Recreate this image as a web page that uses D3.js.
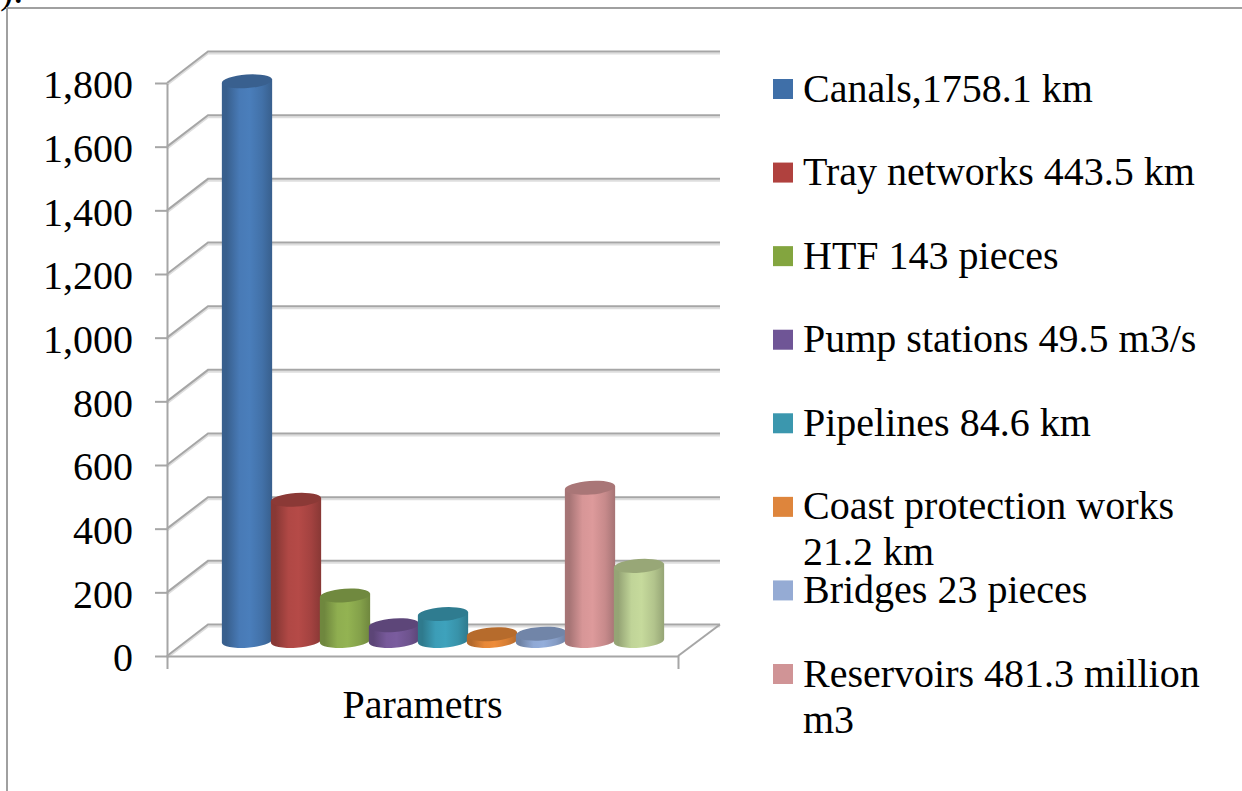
<!DOCTYPE html>
<html>
<head>
<meta charset="utf-8">
<style>
  html, body { margin: 0; padding: 0; background: #fff; overflow: hidden; }
  svg { display: block; }
  text { font-family: "Liberation Serif", "Times New Roman", serif; fill: #000; }
</style>
<script src="https://cdn.jsdelivr.net/npm/d3@7/dist/d3.min.js"></script>
</head>
<body>
<svg id="chart" width="1242" height="791"></svg>
<script>
// Hydraulic infrastructure parameters
const seriesValues = [1758.1, 443.5, 143, 49.5, 84.6, 21.2, 23, 481.3, 236];
const legendLabels = [
  ["Canals,1758.1 km"],
  ["Tray networks 443.5 km"],
  ["HTF 143 pieces"],
  ["Pump stations 49.5 m3/s"],
  ["Pipelines 84.6 km"],
  ["Coast protection works", "21.2 km"],
  ["Bridges 23 pieces"],
  ["Reservoirs 481.3 million", "m3"]
];
const axisTicks = [0, 200, 400, 600, 800, 1000, 1200, 1400, 1600, 1800];
const axisCategories = ["Parametrs"];
const barColors = ["#4a7ebb", "#b54a47", "#93b352", "#7a5c9e", "#3ea2bc", "#ee8c3a", "#94aedb", "#dd9a9b", "#c6da9c"];
const legendColors = ["#3f6fa8", "#b0413e", "#83a53f", "#6f5596", "#3b97ae", "#de853c", "#95abd4", "#d09496"];

const FONT = 40;
const svg = d3.select("#chart");
const defs = svg.append("defs");

// Outer frame, with the caption of the figure above running off the top edge
svg.append("text").attr("x", -20).attr("y", 3).attr("font-size", FONT).text("b).");
svg.append("path").attr("d", "M7,791V8H1242").attr("fill", "none").attr("stroke", "#a0a0a0").attr("stroke-width", 2);

// Front plane scales plus the depth offset of the rear wall
const y = d3.scaleLinear().domain([0, 1800]).range([656, 83]);
const x = d3.scaleBand().domain(axisCategories).range([167, 678]);
const bars = d3.scaleBand().domain(d3.range(seriesValues.length)).range([222, 663]);
const depth = { dx: 41, dy: -31.5 };
const wallRight = x.range()[1] + depth.dx + 1;
const gridColor = "#a6a6a6";

// Wall grid: soft shadow pass first, then the solid lines
const grid = svg.append("g").attr("fill", "none");
const wallPath = v => `M${x.range()[0]},${y(v)}L${x.range()[0] + depth.dx},${y(v) + depth.dy}H${wallRight}`;
grid.selectAll("path.shade").data(axisTicks).join("path")
  .attr("class", "shade")
  .attr("d", wallPath)
  .attr("transform", "translate(0,2)")
  .attr("stroke", "#dedede").attr("stroke-width", 2);
grid.selectAll("path.line").data(axisTicks).join("path")
  .attr("class", "line")
  .attr("d", wallPath)
  .attr("stroke", gridColor).attr("stroke-width", 2);

// Floor edge on the right side
grid.append("path")
  .attr("d", `M${x.range()[1]},${y(0)}L${wallRight},${y(0) + depth.dy}`)
  .attr("stroke", gridColor).attr("stroke-width", 2);

// Axes
const yAxis = svg.append("g").attr("transform", `translate(${x.range()[0]},0)`)
  .call(d3.axisLeft(y).tickValues(axisTicks).tickFormat(d3.format(",")).tickSizeInner(12).tickSizeOuter(0).tickPadding(22));
const xAxis = svg.append("g").attr("transform", `translate(0,${y(0)})`)
  .call(d3.axisBottom(x).tickSizeInner(0).tickSizeOuter(13).tickPadding(34));
[yAxis, xAxis].forEach(a => {
  a.attr("font-family", null).attr("font-size", null);
  a.selectAll("path,line").attr("stroke", gridColor).attr("stroke-width", 2);
  a.selectAll("text").attr("font-size", FONT).attr("fill", "#000");
});
yAxis.selectAll("text").attr("dy", "0.37em");
xAxis.selectAll("text").attr("dy", "0.71em");

// Cylinders, drawn left to right so that each one overlaps the previous
const baseY = y(0) - 15;
const pxPerUnit = (y(0) - y(1)), tilt = 4 * Math.PI / 180, ry = 6.8;
const g = svg.append("g");
seriesValues.forEach((value, i) => {
  const mid = d3.rgb(barColors[i]);
  const edge = mid.darker(0.8);
  const top = mid.darker(0.75);
  const id = "cyl" + i;
  const grad = defs.append("linearGradient").attr("id", id).attr("x1", 0).attr("x2", 1).attr("y1", 0).attr("y2", 0);
  [[0, edge], [0.09, edge], [0.35, mid.darker(0.08)], [0.55, mid], [0.8, mid.darker(0.3)], [1, edge]].forEach(([o, c]) => {
    grad.append("stop").attr("offset", o).attr("stop-color", c);
  });

  const rx = bars.bandwidth() / 2 + 0.7;
  const cx = bars(i) + bars.bandwidth() / 2 + 0.5;
  const cyTop = baseY - value * pxPerUnit;
  const ex = rx * Math.cos(tilt), ey = rx * Math.sin(tilt);
  const deg = -tilt * 180 / Math.PI;

  g.append("path")
    .attr("d", `M${cx - ex},${cyTop + ey}L${cx - ex},${baseY + ey}` +
      `A${rx},${ry} ${deg} 0 0 ${cx + ex},${baseY - ey}L${cx + ex},${cyTop - ey}Z`)
    .attr("fill", `url(#${id})`);
  g.append("ellipse")
    .attr("cx", cx).attr("cy", cyTop).attr("rx", rx).attr("ry", ry)
    .attr("transform", `rotate(${deg} ${cx} ${cyTop})`)
    .attr("fill", top);
});

// Legend
const legendY = d3.scalePoint().domain(d3.range(legendLabels.length)).range([89, 674]);
const legend = svg.selectAll("g.legend").data(legendLabels).join("g")
  .attr("class", "legend")
  .attr("transform", (d, i) => `translate(773,${legendY(i)})`);
legend.append("rect").attr("y", -10).attr("width", 20).attr("height", 20)
  .attr("fill", (d, i) => legendColors[i]);
legend.selectAll("text").data(d => d).join("text")
  .attr("x", 30)
  .attr("y", (d, j) => 12.5 + j * 46)
  .attr("font-size", FONT)
  .text(d => d);
</script>
</body>
</html>
